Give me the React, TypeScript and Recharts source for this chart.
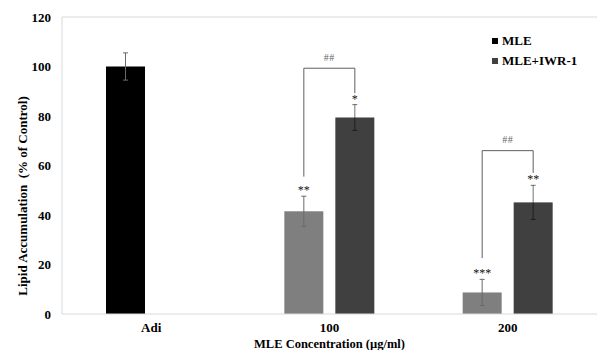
import { BarChart, Bar, XAxis, YAxis, ErrorBar, ReferenceLine, Cell } from "recharts";

const categories = ["Adi", "100", "200"];
const seriesNames = ["MLE", "MLE+IWR-1"];
const mleValues = [100, 41.5, 8.7];
const mleErrors = [5.5, 6.1, 5.3];
const iwrValues = [null, 79.4, 45.1];
const iwrErrors = [null, 5.2, 6.9];
const mleStars = ["", "**", "***"];
const iwrStars = ["", "*", "**"];
const pairMarks = ["", "##", "##"];
const pairTops = [null, 99.3, 66.0];
const pairLeftEnds = [null, 55.5, 22.6];
const pairRightEnds = [null, 89.2, 57.0];
const yTicks = [0, 20, 40, 60, 80, 100, 120];

const data = categories.map((name, i) => ({
  name,
  mle: mleValues[i],
  mleErr: mleErrors[i],
  iwr: iwrValues[i],
  iwrErr: iwrErrors[i],
  mleStar: mleStars[i],
  iwrStar: iwrStars[i],
  pairMark: pairMarks[i],
  pairTop: pairTops[i],
  pairLeft: pairLeftEnds[i],
  pairRight: pairRightEnds[i],
}));

const FONT = "'Liberation Serif', 'Times New Roman', serif";
const BAR_SIZE = 39;
const BAR_GAP = 12;
const SERIES_COLORS = ["#000000", "#404040"];
const MLE_DOSE_COLOR = "#7f7f7f";

// bar + significance marks; pixel positions come from the bar's own scale (height / value)
const makeShape = (key: "mle" | "iwr", errKey: string, starKey: string) => (props: any) => {
  const { x, y, width, height, fill, payload } = props;
  const v = payload?.[key];
  if (v == null || !height) return <g />;
  const k = height / v;
  const base = y + height;
  const py = (u: number) => base - u * k;
  const cx = x + width / 2;
  const errTop = py(v + (payload[errKey] || 0));
  const star = payload[starKey];
  const hasPair = key === "mle" && payload.pairTop != null;
  const rx = cx + BAR_SIZE + BAR_GAP;
  return (
    <g>
      <rect x={x} y={y} width={width} height={height} fill={fill} />
      {star ? (
        <text x={cx} y={errTop - 2} textAnchor="middle" fontFamily={FONT} fontSize={12} fill="#111">
          {star}
        </text>
      ) : null}
      {hasPair ? (
        <g>
          <path
            d={`M${cx},${py(payload.pairLeft)} V${py(payload.pairTop)} H${rx} V${py(payload.pairRight)}`}
            fill="none"
            stroke="#5f5f5f"
            strokeWidth={1}
          />
          <text
            x={(cx + rx) / 2}
            y={py(payload.pairTop) - 7.5}
            textAnchor="middle"
            fontFamily={FONT}
            fontSize={10}
            fill="#666"
            letterSpacing={0.5}
          >
            {payload.pairMark}
          </text>
        </g>
      ) : null}
    </g>
  );
};

const YTitle = () => (
  <text
    x={22}
    y={196}
    transform="rotate(-90 22 196)"
    textAnchor="middle"
    dominantBaseline="central"
    fontFamily={FONT}
    fontWeight="bold"
    fontSize={13}
    fill="#000"
    style={{ whiteSpace: "pre" }}
  >
    {"Lipid Accumulation  (% of Control)"}
  </text>
);

export default function App() {
  const tickStyle = { fontFamily: FONT, fontWeight: "bold", fontSize: 13, fill: "#000" };
  return (
    <div style={{ position: "absolute", left: 0, top: 0, width: 597, height: 350, background: "#fff" }}>
      <BarChart
        width={597}
        height={350}
        data={data}
        margin={{ top: 17, right: 0, bottom: 0, left: 0 }}
        barSize={BAR_SIZE}
        barGap={BAR_GAP}
      >
        <XAxis
          dataKey="name"
          height={36}
          tickLine={false}
          tickSize={6}
          tickMargin={3}
          axisLine={{ stroke: "#d9d9d9" }}
          tick={tickStyle}
          label={{
            value: "MLE Concentration (µg/ml)",
            position: "insideBottom",
            offset: 2.5,
            style: { fontFamily: FONT, fontWeight: "bold", fontSize: 12.5, fill: "#000" },
          }}
        />
        <YAxis
          width={62}
          domain={[0, 120]}
          ticks={yTicks}
          interval={0}
          tickLine={false}
          tickSize={6}
          tickMargin={5}
          axisLine={{ stroke: "#d9d9d9" }}
          tick={tickStyle}
          label={<YTitle />}
        />
        <ReferenceLine y={120} stroke="#d9d9d9" />
        <Bar dataKey="mle" name={seriesNames[0]} isAnimationActive={false} shape={makeShape("mle", "mleErr", "mleStar")}>
          {data.map((d) => (
            <Cell key={d.name} fill={d.name === "Adi" ? SERIES_COLORS[0] : MLE_DOSE_COLOR} />
          ))}
          <ErrorBar dataKey="mleErr" width={2.5} stroke="#6a6a6a" strokeWidth={1} isAnimationActive={false} />
        </Bar>
        <Bar
          dataKey="iwr"
          name={seriesNames[1]}
          fill={SERIES_COLORS[1]}
          isAnimationActive={false}
          shape={makeShape("iwr", "iwrErr", "iwrStar")}
        >
          <ErrorBar dataKey="iwrErr" width={2.5} stroke="#000" strokeOpacity={0.55} strokeWidth={1} isAnimationActive={false} />
        </Bar>
      </BarChart>
      <div style={{ position: "absolute", left: 492, top: 31, fontFamily: FONT, fontWeight: "bold", fontSize: 13, lineHeight: "20px" }}>
        {seriesNames.map((s, i) => (
          <div key={s} style={{ display: "flex", alignItems: "center" }}>
            <span style={{ width: 6, height: 6, background: SERIES_COLORS[i], marginRight: 4 }} />
            <span>{s}</span>
          </div>
        ))}
      </div>
    </div>
  );
}
